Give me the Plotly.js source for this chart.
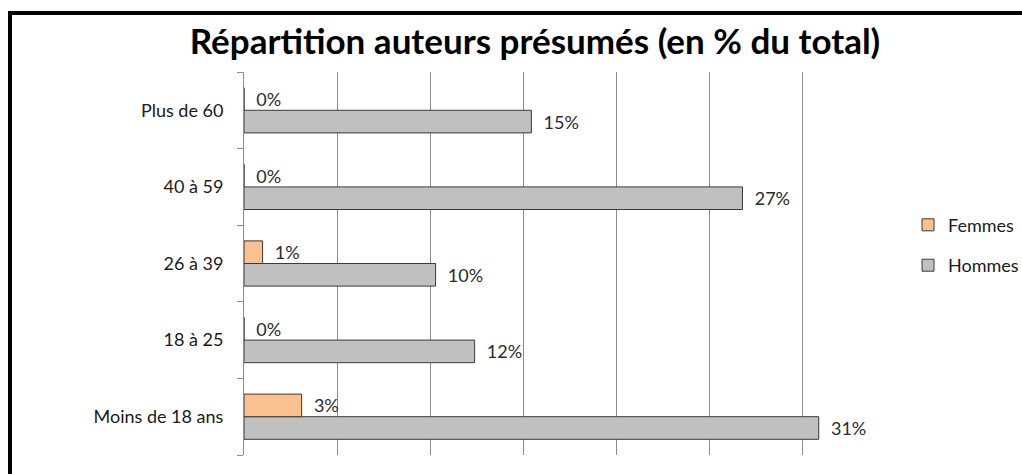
<!DOCTYPE html>
<html>
<head>
<meta charset="utf-8">
<script src="https://cdn.plot.ly/plotly-3.0.1.min.js"></script>
<style>
  html, body { margin: 0; padding: 0; background: #fff; overflow: hidden; }
  #wrap { position: relative; width: 1022px; height: 474px; overflow: hidden; }
  #frame { position: absolute; left: 8px; top: 11px; width: 1100px; height: 600px; border: 4px solid #000; box-sizing: border-box; }
  #chart { position: absolute; left: 0; top: 0; width: 1022px; height: 474px; }
</style>
</head>
<body>
<div id="wrap">
  <div id="frame"></div>
  <div id="chart"></div>
</div>
<script>
const categories = ["Moins de 18 ans", "18 à 25", "26 à 39", "40 à 59", "Plus de 60"];
const femmes = [3.1, 0, 1.0, 0, 0];
const hommes = [30.9, 12.4, 10.3, 26.8, 15.45];
const seriesNames = ["Femmes", "Hommes"];

const FONT = "Lato, 'Open Sans', sans-serif";
const labelTpl = "\u00a0\u00a0%{x:.0f}%";

const traces = [
  {
    type: "bar", orientation: "h", name: seriesNames[1], legendgroup: "h", legendrank: 2,
    y: categories, x: hommes,
    marker: { color: "#C0C0C0", line: { color: "#3a3a3a", width: 1 } },
    texttemplate: labelTpl, textposition: "outside", cliponaxis: false,
    textfont: { family: FONT, size: 18, color: "#2b2b2b" },
    hoverinfo: "x+name"
  },
  {
    type: "bar", orientation: "h", name: seriesNames[0], legendgroup: "f", legendrank: 1,
    y: categories, x: femmes,
    marker: { color: "#FAC090", line: { color: "#3a3a3a", width: 1 } },
    texttemplate: labelTpl, textposition: "outside", cliponaxis: false,
    textfont: { family: FONT, size: 18, color: "#2b2b2b" },
    hoverinfo: "x+name"
  }
];

const layout = {
  width: 1022, height: 474,
  margin: { l: 244, r: 127, t: 72, b: 19, autoexpand: false },
  paper_bgcolor: "rgba(0,0,0,0)",
  plot_bgcolor: "rgba(0,0,0,0)",
  font: { family: FONT, size: 18, color: "#000" },
  title: {
    text: "<b>Répartition auteurs présumés (en % du total)</b>",
    font: { family: FONT, size: 35, color: "#000" },
    xref: "paper", x: 0.447, xanchor: "center",
    yref: "container", y: 0.912, yanchor: "middle"
  },
  barmode: "group",
  bargap: 0.41,
  bargroupgap: 0,
  xaxis: {
    range: [0, 35], dtick: 5, tick0: 0,
    showgrid: true, gridcolor: "#8c8c8c", gridwidth: 1,
    showticklabels: false, zeroline: false, showline: false, ticks: ""
  },
  yaxis: {
    type: "category",
    showline: true, linecolor: "#8c8c8c", linewidth: 1,
    ticks: "outside", tickson: "boundaries", ticklen: 6, tickcolor: "#8c8c8c",
    ticklabelstandoff: 16,
    showgrid: false, zeroline: false,
    tickfont: { family: FONT, size: 18, color: "#1a1a1a" }
  },
  showlegend: true,
  legend: {
    x: 1.02, xref: "paper", xanchor: "left",
    y: 0.548, yanchor: "middle",
    traceorder: "grouped", tracegroupgap: 14,
    font: { family: FONT, size: 18, color: "#1a1a1a" },
    bgcolor: "rgba(0,0,0,0)", itemwidth: 30
  }
};

Plotly.newPlot("chart", traces, layout, { displayModeBar: false, staticPlot: true });
</script>
</body>
</html>
